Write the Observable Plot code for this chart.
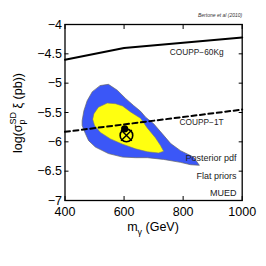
<!DOCTYPE html>
<html><head><meta charset="utf-8">
<script src="https://cdn.jsdelivr.net/npm/d3@7"></script>
<script src="https://cdn.jsdelivr.net/npm/@observablehq/plot@0.6"></script>
<style>body{margin:0;background:#fff}</style>
</head><body><div id="chart"></div>
<script>
const massTicks = [400, 600, 800, 1000];
const sigmaTicks = [-7, -6.5, -6, -5.5, -5, -4.5, -4];

const coupp60Mass = [400, 600, 1000];
const coupp60Sigma = [-4.6, -4.4, -4.22];
const coupp1TMass = [400, 1000];
const coupp1TSigma = [-5.83, -5.45];

// 95% region (blue)
const blueMass = [520, 547, 577, 605, 632, 656, 673, 700, 729, 758, 791, 835, 855, 825, 791, 734, 679, 639, 595, 547, 503, 480, 469, 458, 458, 464, 475, 492];
const blueSigma = [-5.04, -5.02, -5.12, -5.26, -5.38, -5.48, -5.58, -5.69, -5.86, -6.03, -6.15, -6.26, -6.40, -6.39, -6.35, -6.30, -6.27, -6.27, -6.26, -6.20, -6.09, -5.98, -5.86, -5.72, -5.64, -5.47, -5.30, -5.15];
// 68% region (yellow)
const yellowMass = [498, 513, 543, 571, 595, 622, 656, 678, 706, 723, 734, 717, 679, 639, 595, 554, 520, 500, 494];
const yellowSigma = [-5.52, -5.41, -5.34, -5.35, -5.39, -5.49, -5.60, -5.76, -5.93, -6.06, -6.16, -6.19, -6.17, -6.12, -6.04, -5.95, -5.84, -5.72, -5.62];

const bestFitMass = [608], bestFitSigma = [-5.89];
const meanMass = [602], meanSigma = [-5.78];

const lineLabels = ["COUPP\u221260Kg", "COUPP\u22121T"];
const lineLabelMass = [937, 937];
const lineLabelSigma = [-4.48, -5.67];
const noteLabels = ["Posterior pdf", "Flat priors", "MUED"];
const noteMass = [981, 981, 981];
const noteSigma = [-6.27, -6.58, -6.87];
const creditText = "Bertone et al (2010)";

const toRows = (xs, ys) => xs.map((x, i) => ({x, y: ys[i]}));

const plot = Plot.plot({
  width: 266, height: 266,
  marginLeft: 64.5, marginRight: 24.3, marginTop: 24, marginBottom: 66,
  style: {fontFamily: "'Liberation Sans', Arial, sans-serif", background: "white", color: "black"},
  x: {domain: [400, 1000], axis: null},
  y: {domain: [-7, -4], axis: null},
  marks: [
    Plot.line(toRows(blueMass, blueSigma), {x: "x", y: "y", curve: "linear-closed", fill: "#3b57f7", stroke: "#666", strokeWidth: 0.7}),
    Plot.line(toRows(yellowMass, yellowSigma), {x: "x", y: "y", curve: "linear-closed", fill: "#ffff10", stroke: "#777", strokeWidth: 0.6}),
    Plot.line(toRows(coupp60Mass, coupp60Sigma), {x: "x", y: "y", stroke: "black", strokeWidth: 2}),
    Plot.line(toRows(coupp1TMass, coupp1TSigma), {x: "x", y: "y", stroke: "black", strokeWidth: 2, strokeDasharray: "5,3.5"}),
    Plot.dot(toRows(meanMass, meanSigma), {x: "x", y: "y", r: 3.6, fill: "black"}),
    Plot.dot(toRows(bestFitMass, bestFitSigma), {x: "x", y: "y", r: 6.3, stroke: "black", strokeWidth: 1.6, fill: "none"}),
    Plot.dot(toRows(bestFitMass, bestFitSigma), {x: "x", y: "y", r: 5, symbol: "times", stroke: "black", strokeWidth: 1.4}),
    Plot.text(lineLabels, {x: (d, i) => lineLabelMass[i], y: (d, i) => lineLabelSigma[i], text: d => d, textAnchor: "end", fontSize: 8.3, fill: "#222"}),
    Plot.text(noteLabels, {x: (d, i) => noteMass[i], y: (d, i) => noteSigma[i], text: d => d, textAnchor: "end", fontSize: 9, fill: "#222"}),
    Plot.text([creditText], {x: () => 1000, y: () => -3.84, text: d => d, textAnchor: "end", fontSize: 5, fontStyle: "italic", fill: "#333"}),
    Plot.frame({stroke: "black", strokeWidth: 1.3}),
    Plot.axisX(massTicks, {anchor: "bottom", tickSize: -4, tickPadding: 11, fontSize: 12.5, label: null, tickFormat: d => String(d)}),
    Plot.axisX(massTicks, {anchor: "top", tickSize: -4, tickFormat: () => "", label: null}),
    Plot.axisY(sigmaTicks, {anchor: "left", tickSize: -4, tickPadding: 7, fontSize: 12.5, label: null, tickFormat: d => String(d).replace("-", "\u2212")}),
    Plot.axisY(sigmaTicks, {anchor: "right", tickSize: -4, tickFormat: () => "", label: null})
  ]
});

const svg = d3.select(plot);
// y axis title with sub/superscripts
const yl = svg.append("text")
  .attr("transform", "translate(22,113) rotate(-90)")
  .attr("text-anchor", "middle")
  .attr("font-size", 12.5)
  .attr("fill", "black");
yl.append("tspan").text("log(\u03c3");
yl.append("tspan").attr("font-size", 9).attr("dy", 3).text("p");
yl.append("tspan").attr("font-size", 9).attr("dx", -5).attr("dy", -9).text("SD");
yl.append("tspan").attr("dy", 6).text(" \u03be (pb))");
// x axis title
const xl = svg.append("text")
  .attr("transform", "translate(153,231)")
  .attr("text-anchor", "middle")
  .attr("font-size", 12.5)
  .attr("fill", "black");
xl.append("tspan").text("m");
xl.append("tspan").attr("font-size", 9).attr("dy", 4).text("\u03b3");
xl.append("tspan").attr("dy", -4).text(" (GeV)");

document.getElementById("chart").appendChild(plot);
</script></body></html>
